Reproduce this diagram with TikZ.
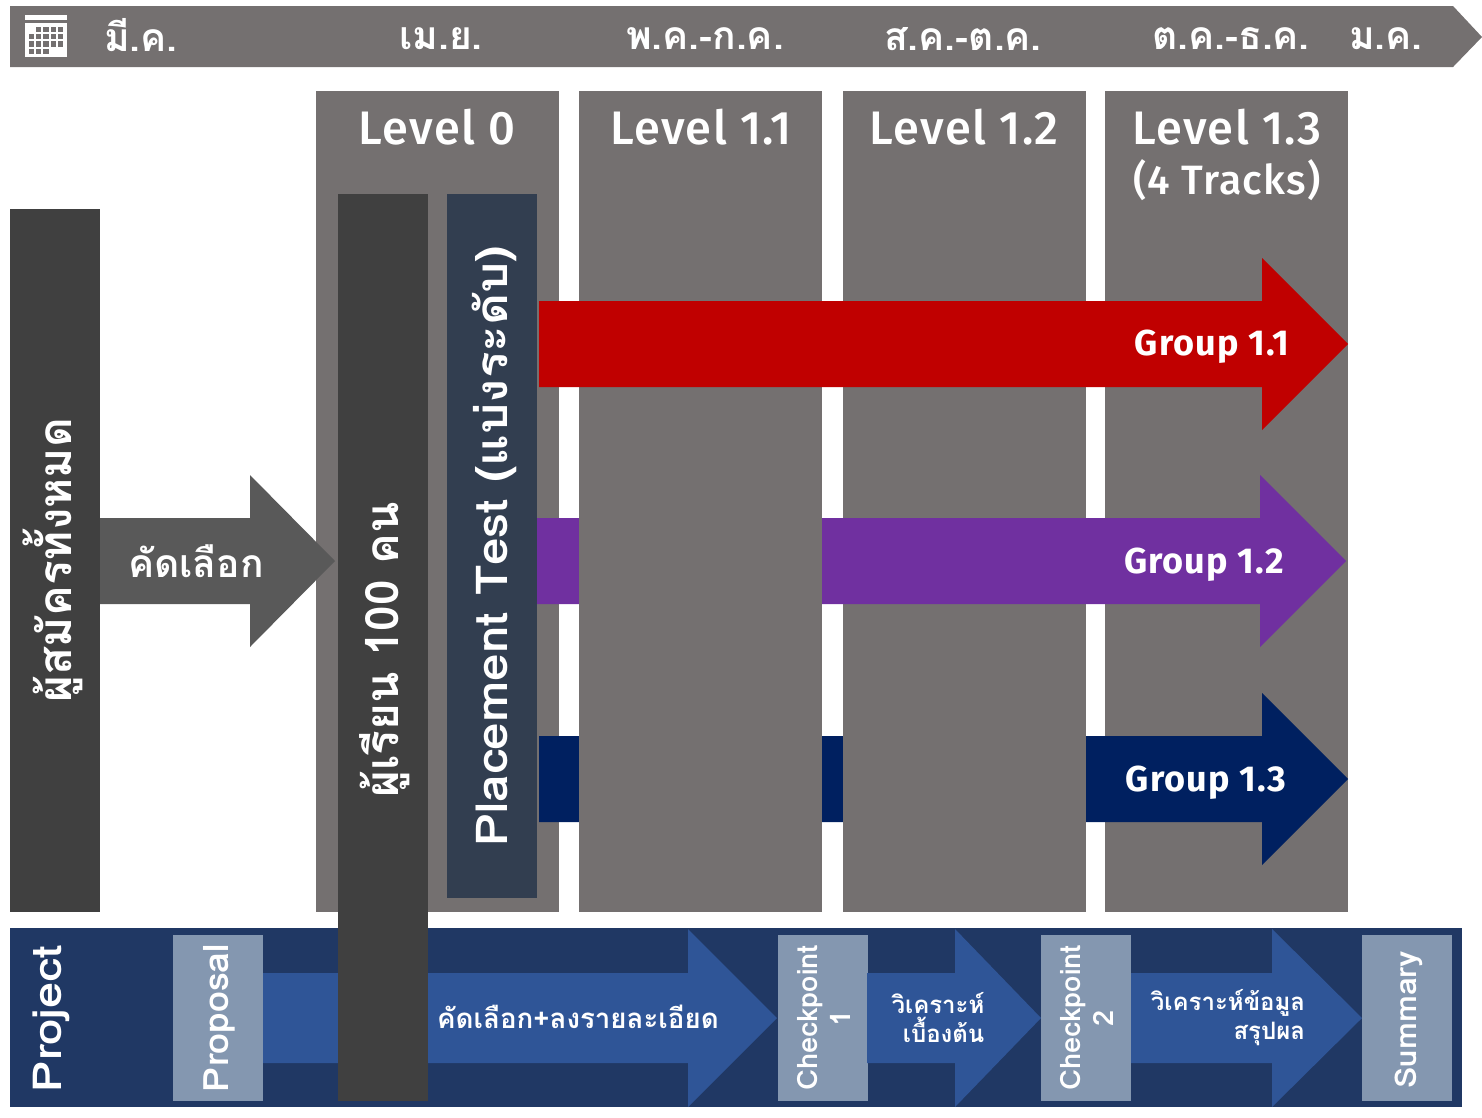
\documentclass[tikz,border=0pt]{standalone}
\usepackage{fontspec}
\usetikzlibrary{calc,positioning}
\newfontfamily\thaifont[Script=Thai]{Loma}
\newfontfamily\levelfont[LetterSpace=3,BoldFont={Fira Sans Medium}]{Fira Sans}
\newfontfamily\groupfont[LetterSpace=3]{Fira Sans}
\newcommand{\blockarrow}[7]{% colour, start, neck, tip, centre, half shaft, half head
  \fill[#1] (#2,#5-#6) -- (#3,#5-#6) -- (#3,#5-#7) -- (#4,#5)
    -- (#3,#5+#7) -- (#3,#5+#6) -- (#2,#5+#6) -- cycle;}
\newcommand{\thaisize}[1]{\thaifont\fontsize{#1}{#1}\selectfont\bfseries}
\newcommand{\levelsize}[1]{\levelfont\fontsize{#1}{#1}\selectfont\bfseries}
\definecolor{barGrey}{HTML}{747070}
\definecolor{barDark}{HTML}{404040}
\definecolor{midGrey}{HTML}{595959}
\definecolor{testBlue}{HTML}{323E50}
\definecolor{bandBlue}{HTML}{203864}
\definecolor{flowBlue}{HTML}{2F5597}
\definecolor{boxBlue}{HTML}{8497B0}
\definecolor{groupRed}{HTML}{C00000}
\definecolor{groupPurple}{HTML}{7030A0}
\definecolor{groupNavy}{HTML}{002060}
\tikzset{
  block/.style={rectangle, inner sep=0pt, anchor=north west},
  levelbox/.style={block, fill=barGrey, minimum width=243pt, minimum height=821pt},
  tallbox/.style={block, fill=barDark, minimum width=90pt},
  stagebox/.style={block, fill=boxBlue, minimum width=90pt, minimum height=166pt},
  whitetext/.style={text=white, inner sep=0pt, align=center},
  monthtext/.style={whitetext, font=\thaisize{39}},
  leveltext/.style={whitetext, font=\levelsize{47}},
  grouptext/.style={whitetext, font={\groupfont\fontsize{36}{36}\selectfont\bfseries}},
  sidetext/.style={whitetext, rotate=90, font=\thaisize{46}},
  stagetext/.style={whitetext, rotate=90, font={\thaifont\fontsize{28}{33}\selectfont\bfseries}, xscale=1.04},
  flowtext/.style={whitetext, font={\thaifont\fontsize{24}{29}\selectfont\bfseries}},
}
\begin{document}
\begin{tikzpicture}[x=1pt, y=-1pt]
  \useasboundingbox (0,0) rectangle (1482,1117);
  % month bar
  \fill[barGrey] (10,6) -- (1453,6) -- (1482,37) -- (1453,67) -- (10,67) -- cycle;
  \fill[white] (25,15) rectangle (67,19.5);
  \fill[white] (25,23) rectangle (67,57);
  \foreach \col/\row in {2/1,3/1,4/1,5/1,1/2,2/2,3/2,4/2,5/2,1/3,2/3,3/3,4/3,5/3,1/4,2/4,3/4}
    \fill[barGrey] (21.5+7.3*\col,19.5+7.3*\row) rectangle ++(5.2,5.2);
  \node [monthtext] (mar) at (141,35) {มี.ค.};
  \node [monthtext] (apr) at (441,39) {เม.ย.};
  \node [monthtext] (may) at (705,39) {พ.ค.-ก.ค.};
  \node [monthtext] (aug) at (963,39) {ส.ค.-ต.ค.};
  \node [monthtext] (oct) at (1231,39) {ต.ค.-ธ.ค.};
  \node [monthtext] (jan) at (1386,39) {ม.ค.};
  % columns, in this order because of the overlaps
  \node [levelbox] (lvlThree) at (1105,91) {};
  \node [levelbox] (lvlZero) at (316,91) {};
  \blockarrow{groupNavy}{539}{1262}{1348}{779}{43}{86}
  \node [levelbox] (lvlTwo) at (843,91) {};
  \blockarrow{groupPurple}{537}{1260}{1346}{561}{43}{86}
  \node [levelbox] (lvlOne) at (579,91) {};
  \blockarrow{groupRed}{539}{1262}{1348}{344}{43}{86}
  \node [leveltext] (txtZero) at (437,127) {Level 0};
  \node [leveltext] (txtOne) at (701,127) {Level 1.1};
  \node [leveltext] (txtTwo) at (964,127) {Level 1.2};
  \node [leveltext] (txtThree) at (1227,127) {Level 1.3};
  \node [leveltext, font=\levelsize{41}] (tracks) at (1227,180) {(4 Tracks)};
  \node [grouptext] (grpOne) at (1212,347) {Group 1.1};
  \node [grouptext] (grpTwo) at (1204,565) {Group 1.2};
  \node [grouptext] (grpThree) at (1206,783) {Group 1.3};
  % left side
  \node [tallbox, minimum height=703pt] (applicants) at (10,209) {};
  \node [sidetext] (txtApplicants) at (53,560) {ผู้สมัครทั้งหมด};
  \blockarrow{midGrey}{100}{250}{335}{561}{43}{86}
  \node [monthtext] (select) at (196,561) {คัดเลือก};
  \node [block, fill=testBlue, minimum width=90pt, minimum height=704pt] (placement) at (447,194) {};
  \node [sidetext, font=\thaisize{44}, xscale=1.125] (txtPlacement) at (494,546) {Placement Test (แบ่งระดับ)};
  % project band
  \fill[bandBlue] (10,928) rectangle (1462,1107);
  \node [stagebox] (proposal) at (173,935) {};
  \blockarrow{flowBlue}{263}{688}{777}{1018}{45}{89}
  \node [stagebox] (checkOne) at (778,935) {};
  \blockarrow{flowBlue}{867}{955}{1041}{1018}{45}{89}
  \node [stagebox] (checkTwo) at (1041,935) {};
  \blockarrow{flowBlue}{1131}{1272}{1362}{1018}{45}{89}
  \node [stagebox] (summary) at (1362,935) {};
  \node [stagetext, font=\thaisize{40}, xscale=1.13] (project) at (51,1019) {Project};
  \node [stagetext, font=\thaisize{35}, xscale=1.03] (txtProposal) at (219,1018) {Proposal};
  \node [stagetext] (txtCheckOne) at (824,1018) {Checkpoint\\1};
  \node [stagetext] (txtCheckTwo) at (1087,1018) {Checkpoint\\2};
  \node [stagetext, font=\thaisize{30}, xscale=1.03] (txtSummary) at (1409,1020) {Summary};
  \node [flowtext, font=\thaisize{27.7}] (flowOne) at (578,1017) {คัดเลือก+ลงรายละเอียด};
  \node [flowtext, align=right] (flowTwo) at (938,1018) {วิเคราะห์\\เบื้องต้น};
  \node [flowtext, align=right] (flowThree) at (1228,1018) {วิเคราะห์ข้อมูล\\สรุปผล};
  % learners bar goes over the band
  \node [tallbox, minimum height=907pt] (learners) at (338,194) {};
  \node [sidetext] (txtLearners) at (385,650) {ผู้เรียน 100 คน};
\end{tikzpicture}
\end{document}
